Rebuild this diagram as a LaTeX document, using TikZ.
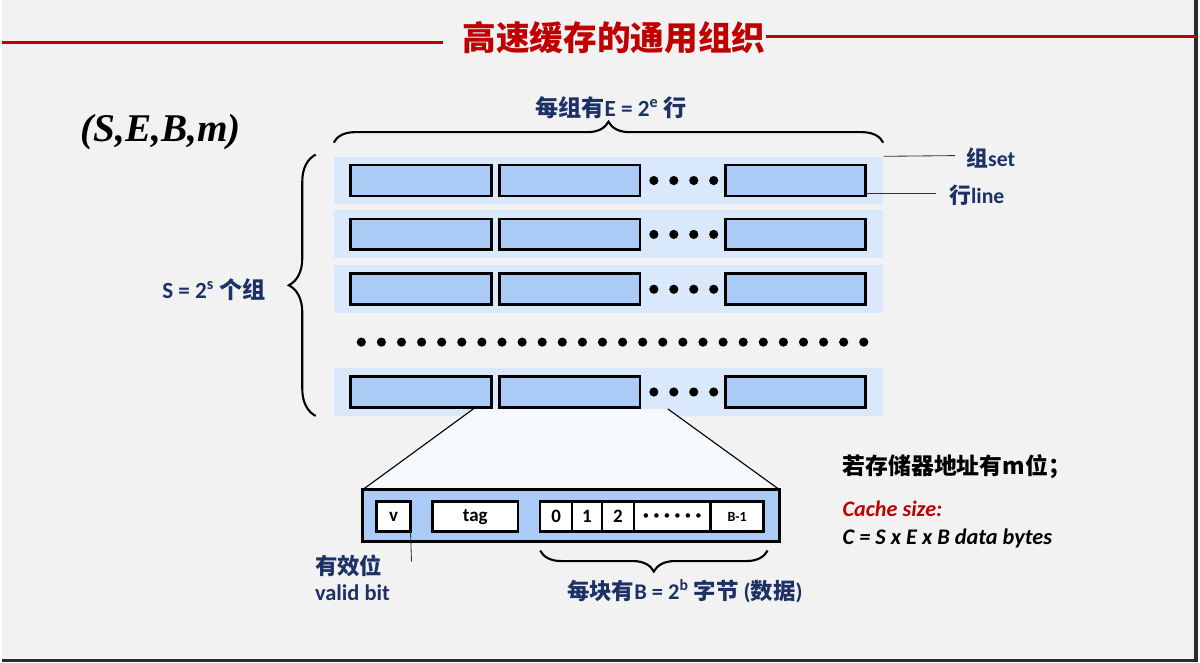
\documentclass[tikz,border=0pt]{standalone}
\usepackage{fontspec}
\setmainfont{Carlito}
\newfontfamily\cjk{Noto Sans CJK SC}
\newfontfamily\timesf{Liberation Serif}
\usetikzlibrary{positioning, decorations.pathreplacing, calc}
\definecolor{pagebg}{HTML}{F2F2F2}
\definecolor{bandblue}{HTML}{DAE8FC}
\definecolor{cellblue}{HTML}{A9CBF5}
\definecolor{zoomfill}{HTML}{F5F9FE}
\definecolor{navytxt}{HTML}{1C3166}
\definecolor{titlered}{HTML}{C00000}
\tikzset{
  setband/.style={fill=bandblue, minimum width=137.75mm, minimum height=12mm, inner sep=0pt},
  linebox/.style={draw, line width=2pt, fill=cellblue, minimum width=35.25mm, minimum height=7.75mm, inner sep=0pt, outer sep=0pt},
  blockbox/.style={draw, line width=2pt, fill=cellblue, minimum width=104.5mm, minimum height=13mm, inner sep=0pt},
  cell/.style={draw, line width=1.8pt, fill=white, minimum height=7.5mm, inner sep=0pt, outer sep=0pt, font=\bfseries\fontsize{13.5}{15}\selectfont},
  bigdot/.style={circle, fill=black, minimum size=2.3mm, inner sep=0pt},
  lbl/.style={text=navytxt, font=\bfseries\fontsize{15.5}{18}\selectfont, inner sep=0pt},
  biglbl/.style={lbl, font=\bfseries\fontsize{16.5}{19}\selectfont},
  cbrace/.style={decorate, decoration={brace, amplitude=#1}, line width=1.5pt},
  leader/.style={line width=0.6pt, black!80},
  redrule/.style={line width=2.2pt, titlered},
  every node/.style={font=\bfseries}
}

\begin{document}
\begin{tikzpicture}[x=0.25mm, y=-0.25mm]
    \fill[pagebg] (0,0) rectangle (1200,664);
    \fill[black!83] (1196,0) rectangle (1200,664);
    \fill[black!83] (0,661) rectangle (1200,664);
    % title
    \node[font=\cjk\bfseries\fontsize{24}{28}\selectfont, text=titlered, inner sep=0pt] (title) at (614,38) {高速缓存的通用组织};
    \coordinate (ruleL) at (0,43);
    \coordinate (ruleR) at (1200,37);
    \draw[redrule] (ruleL) -- ++(443,0);
    \draw[redrule] (title.east |- ruleR) -- (ruleR);
    \node[font=\timesf\bfseries\itshape\fontsize{28}{30}\selectfont, anchor=west, inner sep=0pt] (params) at (79,132) {(S,E,B,m)};
    % sets
    \foreach \r/\y in {1/181,2/235,3/290,5/393}
        \node[setband] (set\r) at (608.5,\y) {};
    \foreach \d in {0,...,25}
        \node[bigdot] (gap\d) at (360.7+20.15*\d,343) {};
    % zoom onto one line
    \coordinate (zTL) at (473,410);
    \coordinate (zTR) at (668,410);
    \coordinate (zBL) at (362,491);
    \coordinate (zBR) at (780,491);
    \fill[zoomfill] (zTL) -- (zTR) -- (zBR) -- (zBL) -- cycle;
    \draw[line width=0.8pt] (zTL) -- (zBL) (zTR) -- (zBR);
    \foreach \r/\y in {1/181,2/235,3/290,5/393} {
        \node[linebox] (l\r-a) at (420.5,\y) {};
        \node[linebox, right=2mm of l\r-a] (l\r-b) {};
        \node[linebox] (l\r-c) at (796,\y) {};
        \foreach \d in {0,...,3}
            \node[bigdot] at (654+20*\d,\y) {};
    }
    % braces
    \draw[cbrace=5.25mm] (333,143) -- (884,143);
    \node[biglbl] (elbl) at (611,108) {{\cjk 每组有}E = 2\textsuperscript{e} {\cjk 行}};
    \draw[cbrace=6.75mm] (315,417) -- (315,155);
    \node[biglbl, anchor=east] (slbl) at (265,290) {S = 2\textsuperscript{s} {\cjk 个组}};
    % set / line
    \coordinate (setend) at (956,156);
    \coordinate (lineend) at (937,194);
    \draw[leader] (set1.north east) -- (setend);
    \draw[leader] (l1-c.east |- lineend) -- (lineend);
    \node[lbl, anchor=west] (setlbl) at (967,158) {{\cjk 组}set};
    \node[lbl, anchor=west] (linelbl) at (950,196) {{\cjk 行}line};
    % the block
    \node[blockbox] (blk) at (571,517) {};
    \node[cell, minimum width=8.5mm] (vbit) at (393,518) {v};
    \node[cell, minimum width=21.5mm] (tag) at (475,518) {tag};
    \node[cell, minimum width=8mm] (c0) at (556,518) {0};
    \node[cell, minimum width=7.5mm, right=0pt of c0] (c1) {1};
    \node[cell, minimum width=8mm, right=0pt of c1] (c2) {2};
    \node[cell, minimum width=19.25mm, right=0pt of c2, font=\fontsize{9}{9}\selectfont] (cdots) {•\,\,•\,\,•\,\,•\,\,•\,\,•};
    \node[cell, minimum width=13.25mm, right=0pt of cdots, font=\bfseries\fontsize{10}{12}\selectfont] (clast) {B-1};
    \coordinate (vend) at (411,563);
    \draw[leader] (vbit.south east) -- (vend);
    \node[lbl, anchor=west, font=\bfseries\fontsize{16}{18}\selectfont] (vcn) at (314,567) {\cjk 有效位};
    \node[lbl, anchor=west, font=\bfseries\fontsize{16}{18}\selectfont] (ven) at (314,594) {valid bit};
    \draw[cbrace=5.25mm] (768,552) -- (540,552);
    \node[lbl, font=\bfseries\fontsize{16}{18}\selectfont] (blbl) at (685,593) {{\cjk 每块有}B = 2\textsuperscript{b} {\cjk 字节} ({\cjk 数据})};
    % size
    \node[anchor=west, inner sep=0pt, font=\cjk\bfseries\fontsize{16.3}{18}\selectfont] (addr) at (843,468) {若存储器地址有m位；};
    \node[anchor=west, inner sep=0pt, text=titlered, font=\bfseries\itshape\fontsize{15.8}{18}\selectfont] (csz) at (843,510) {Cache size:};
    \node[anchor=west, inner sep=0pt, font=\bfseries\itshape\fontsize{15.9}{18}\selectfont] (cfm) at (843,540) {C = S x E x B data bytes};
\end{tikzpicture}
\end{document}
